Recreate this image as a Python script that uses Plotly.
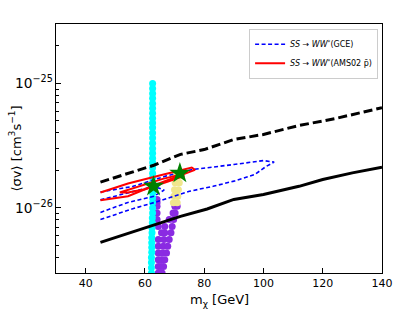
import plotly.graph_objects as go

# ---- data ----
bound_dash_x = [45, 55, 63, 72, 80, 90, 100, 112, 124, 140]
bound_dash_y = [1.61e-26, 1.92e-26, 2.20e-26, 2.69e-26, 2.94e-26, 3.54e-26, 3.89e-26, 4.59e-26, 5.20e-26, 6.38e-26]

bound_solid_x = [45, 63, 72, 81, 90, 100, 112, 120, 130, 140]
bound_solid_y = [5.28e-27, 7.34e-27, 8.55e-27, 9.8e-27, 1.17e-26, 1.28e-26, 1.49e-26, 1.69e-26, 1.91e-26, 2.12e-26]

gce_outer_x = [45, 55, 64, 75, 83, 90, 97, 101, 103.6, 100, 90, 76, 67, 56, 45]
gce_outer_y = [8.05e-27, 9.7e-27, 1.12e-26, 1.36e-26, 1.49e-26, 1.64e-26, 1.85e-26, 2.16e-26, 2.33e-26,
               2.40e-26, 2.23e-26, 2.03e-26, 1.80e-26, 1.49e-26, 1.34e-26]
gce_inner_x = [45, 54, 63, 66.5, 63, 55, 45]
gce_inner_y = [9.2e-27, 1.10e-26, 1.24e-26, 1.39e-26, 1.49e-26, 1.34e-26, 1.16e-26]

ams_outer_x = [45, 54.3, 65.6, 75.8, 76.9, 73.5, 65.6, 54.3, 45]
ams_outer_y = [1.33e-26, 1.57e-26, 1.84e-26, 2.11e-26, 2.02e-26, 1.88e-26, 1.60e-26, 1.24e-26, 1.15e-26]
ams_inner_x = [51.5, 60, 66, 71.2, 73.3, 67.8, 60, 54.3, 51.5]
ams_inner_y = [1.33e-26, 1.55e-26, 1.71e-26, 1.83e-26, 1.81e-26, 1.63e-26, 1.41e-26, 1.33e-26, 1.33e-26]

cyan_x = [62.6, 62.6, 62.6, 62.6, 62.6, 62.6, 62.6, 62.6, 62.6, 62.6,
          62.6, 62.6, 62.6, 62.6, 62.6, 62.6, 62.6, 62.6, 62.6, 62.6,
          62.6, 62.6, 62.6, 62.6, 62.6, 62.6, 62.6, 62.5, 62.5, 62.4,
          62.4, 62.3, 62.3, 62.3, 62.3, 62.2, 62.2, 62.2, 62.2, 62.2]
cyan_y = [1.00e-25, 9.1e-26, 8.3e-26, 7.6e-26, 6.9e-26, 6.3e-26, 5.75e-26, 5.25e-26, 4.8e-26, 4.4e-26,
          4.0e-26, 3.65e-26, 3.3e-26, 3.0e-26, 2.75e-26, 2.5e-26, 2.3e-26, 2.1e-26, 1.9e-26, 1.75e-26,
          1.6e-26, 1.45e-26, 1.32e-26, 1.2e-26, 1.1e-26, 1.0e-26, 9.1e-27, 8.3e-27, 7.6e-27, 6.9e-27,
          6.3e-27, 5.75e-27, 5.25e-27, 4.8e-27, 4.4e-27, 4.0e-27, 3.65e-27, 3.3e-27, 3.0e-27, 2.8e-27]

purple_x = [64.1, 64.1, 64.1, 64.1, 64.1,
            70.1, 70.9, 69.5, 70.2, 68.2, 69.7, 66.7, 69.2,
            64.5, 65.6, 66.7, 68.8, 64.5, 66.4, 68.2,
            64.5, 66.2, 67.7, 64.5, 65.9, 67.3, 64.5, 65.6, 66.7,
            64.5, 65.4, 66.3, 64.5, 65.8, 64.3, 65.5]
purple_y = [1.17e-26, 1.10e-26, 1.03e-26, 9.1e-27, 8.05e-27,
            1.03e-26, 1.03e-26, 9.1e-27, 9.1e-27, 8.05e-27, 8.05e-27, 7.1e-27, 7.1e-27,
            7.1e-27, 6.3e-27, 6.3e-27, 6.3e-27, 5.56e-27, 5.56e-27, 5.56e-27,
            4.91e-27, 4.91e-27, 4.91e-27, 4.35e-27, 4.35e-27, 4.35e-27, 3.84e-27, 3.84e-27, 3.84e-27,
            3.39e-27, 3.39e-27, 3.39e-27, 3.0e-27, 3.0e-27, 2.8e-27, 2.8e-27]

yellow_x = [70.3, 71.8, 70.2, 71.6, 70.0, 71.3, 69.8, 71.1, 69.6, 70.9]
yellow_y = [1.80e-26, 1.80e-26, 1.59e-26, 1.59e-26, 1.40e-26, 1.40e-26, 1.24e-26, 1.24e-26, 1.10e-26, 1.10e-26]

star_x = [62.9, 71.8]
star_y = [1.49e-26, 1.90e-26]

x_ticks = [40, 60, 80, 100, 120, 140]
x_title = "m<sub>χ</sub> [GeV]"
y_title = "⟨σv⟩ [cm<sup>3</sup>s<sup>−1</sup>]"

FONT = "DejaVu Sans"
fig = go.Figure()

mk = dict(size=7, line=dict(width=0))
fig.add_trace(go.Scatter(x=purple_x, y=purple_y, mode="markers", showlegend=False,
                         marker=dict(color="#8A2BE2", **mk)))
fig.add_trace(go.Scatter(x=yellow_x, y=yellow_y, mode="markers", showlegend=False,
                         marker=dict(color="#F0E68C", **mk)))
fig.add_trace(go.Scatter(x=cyan_x, y=cyan_y, mode="markers", showlegend=False,
                         marker=dict(color="#00FFFF", **mk)))

fig.add_trace(go.Scatter(x=bound_dash_x, y=bound_dash_y, mode="lines", showlegend=False,
                         line=dict(color="black", width=3, dash="9px,4px")))
fig.add_trace(go.Scatter(x=bound_solid_x, y=bound_solid_y, mode="lines", showlegend=False,
                         line=dict(color="black", width=3)))

blue_line = dict(color="#0000FF", width=1.6, dash="4px,2.5px")
fig.add_trace(go.Scatter(x=gce_outer_x, y=gce_outer_y, mode="lines", legendgroup="gce",
                         name="<i>SS</i> → <i>WW</i><sup>*</sup>(GCE)", line=blue_line))
fig.add_trace(go.Scatter(x=gce_inner_x, y=gce_inner_y, mode="lines", legendgroup="gce",
                         showlegend=False, line=blue_line))

red_line = dict(color="#FF0000", width=2)
fig.add_trace(go.Scatter(x=ams_outer_x, y=ams_outer_y, mode="lines", legendgroup="ams",
                         name="<i>SS</i> → <i>WW</i><sup>*</sup>(AMS02 p\u0304)", line=red_line))
fig.add_trace(go.Scatter(x=ams_inner_x, y=ams_inner_y, mode="lines", legendgroup="ams",
                         showlegend=False, line=red_line))

fig.add_trace(go.Scatter(x=star_x, y=star_y, mode="markers", showlegend=False,
                         marker=dict(symbol="star", size=16, color="#008000",
                                     line=dict(color="#008000", width=0))))

fig.update_layout(
    width=415, height=311,
    margin=dict(l=56, r=33, t=24, b=38),
    paper_bgcolor="white", plot_bgcolor="white",
    font=dict(family=FONT, color="black", size=11),
    legend=dict(x=0.988, y=0.981, xanchor="right", yanchor="top",
                bgcolor="white", bordercolor="#cccccc", borderwidth=1,
                font=dict(size=8, family=FONT), tracegroupgap=0,
                itemwidth=30),
    annotations=[
        dict(text=x_title, xref="paper", yref="paper", x=0.5, y=0, yshift=-27,
             xanchor="center", yanchor="middle", showarrow=False, font=dict(size=13, family=FONT)),
        dict(text=y_title, xref="paper", yref="paper", x=0, y=0.5, xshift=-41,
             xanchor="center", yanchor="middle", textangle=-90, showarrow=False,
             font=dict(size=13, family=FONT)),
    ],
)
fig.update_xaxes(
    range=[30, 140], tickvals=x_ticks, ticks="inside", ticklen=5, tickcolor="black",
    showline=True, linecolor="black", linewidth=1, mirror=True, showgrid=False, zeroline=False,
    automargin=False, tickfont=dict(size=11),
)
fig.update_yaxes(
    type="log", range=[-26.523, -24.523], dtick=1, exponentformat="power",
    ticks="inside", ticklen=5, tickcolor="black",
    minor=dict(ticks="inside", ticklen=3, tickcolor="black", dtick="D1", showgrid=False),
    showline=True, linecolor="black", linewidth=1, mirror=True, showgrid=False, zeroline=False,
    automargin=False, tickfont=dict(size=11),
)

fig.write_html("out.html", config={"displayModeBar": False},
               post_script="document.body.style.margin='0';document.body.style.overflow='hidden';")
